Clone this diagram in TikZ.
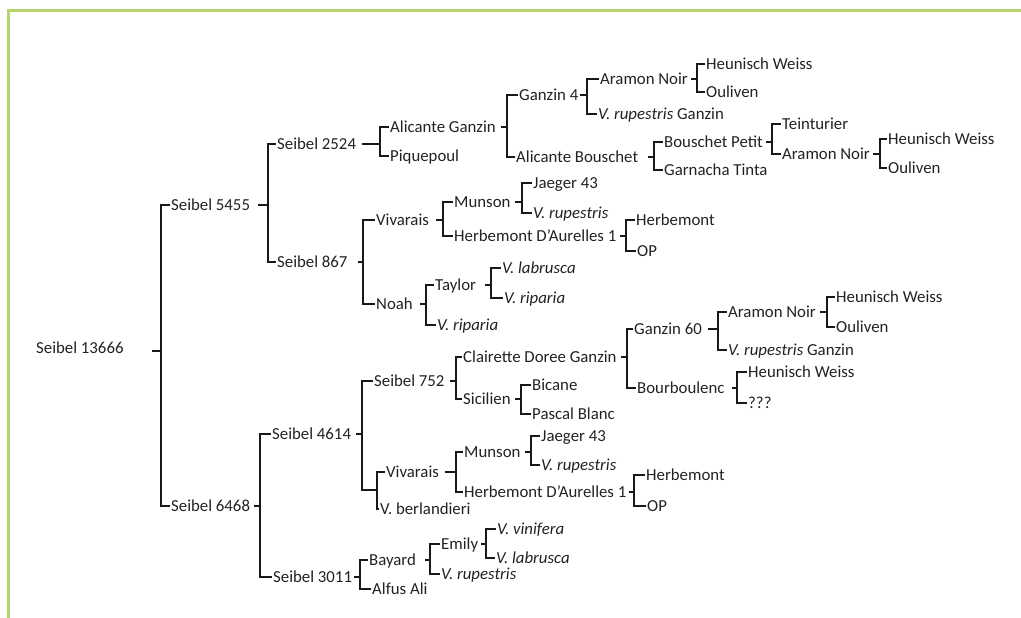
\documentclass[tikz,border=0pt]{standalone}
\usepackage{fontspec}
\setmainfont{Carlito}
\definecolor{framegreen}{HTML}{B5D46C}
\definecolor{ink}{HTML}{222222}
\newcommand\brk[5]{%
  \path (#2,0) coordinate (#1-s) (#3,0) coordinate (#1-j);
  \draw[link] (#1.east -| #1-s) -- (#1.east -| #1-j);
  \draw[link] ([xshift=-1.5pt]#4.west) -| (#1-j |- #5.west) -- ([xshift=-1.5pt]#5.west);
}
\begin{document}
\begin{tikzpicture}[x=1pt,y=-1pt,
  lbl/.style={anchor=west, inner sep=0pt, text height=11.5pt, text depth=0pt, text=ink, font=\fontsize{16.8}{18}\selectfont},
  link/.style={draw=black!90, line width=2pt},
  frm/.style={draw=framegreen, line width=2.8pt}]
\useasboundingbox (0,0) rectangle (1021,618);
\draw[frm] (1021,10.5) -- (8.5,10.5) -- (8.5,618);

% root and first level
\node[lbl] (r) at (36,348) {Seibel 13666};
\node[lbl] (a) at (171,205) {Seibel 5455};
\node[lbl] (b) at (171,506) {Seibel 6468};

% upper subtree
\node[lbl] (a1) at (277,144) {Seibel 2524};
\node[lbl] (a2) at (277,262) {Seibel 867};
\node[lbl] (a11) at (390,127) {Alicante Ganzin};
\node[lbl] (a12) at (390,156) {Piquepoul};
\node[lbl] (a111) at (519,95) {Ganzin 4};
\node[lbl] (a112) at (516,157) {Alicante Bouschet};
\node[lbl] (a1111) at (600,79) {Aramon Noir};
\node[lbl] (a1112) at (598,114) {\textit{V. rupestris} Ganzin};
\node[lbl] (a11111) at (706,64) {Heunisch Weiss};
\node[lbl] (a11112) at (706,92) {Ouliven};
\node[lbl] (a1121) at (664,142) {Bouschet Petit};
\node[lbl] (a1122) at (664,170) {Garnacha Tinta};
\node[lbl] (a11211) at (782,124) {Teinturier};
\node[lbl] (a11212) at (782,154) {Aramon Noir};
\node[lbl] (a112121) at (888,139) {Heunisch Weiss};
\node[lbl] (a112122) at (888,168) {Ouliven};
\node[lbl] (a21) at (376,220) {Vivarais};
\node[lbl] (a22) at (376,304) {Noah};
\node[lbl] (a211) at (454,202) {Munson};
\node[lbl] (a212) at (454,236) {Herbemont D'Aurelles 1};
\node[lbl] (a2111) at (533,183) {Jaeger 43};
\node[lbl] (a2112) at (533,213) {\textit{V. rupestris}};
\node[lbl] (a2121) at (636,220) {Herbemont};
\node[lbl] (a2122) at (637,251) {OP};
\node[lbl] (a221) at (435,285) {Taylor};
\node[lbl] (a222) at (437,325) {\textit{V. riparia}};
\node[lbl] (a2211) at (502,268) {\textit{V. labrusca}};
\node[lbl] (a2212) at (504,298) {\textit{V. riparia}};

% lower subtree
\node[lbl] (b1) at (272,434) {Seibel 4614};
\node[lbl] (b2) at (273,577) {Seibel 3011};
\node[lbl] (b11) at (374,381) {Seibel 752};
\coordinate (b12) at (377,490);
\node[lbl] (b121) at (386,472) {Vivarais};
\node[lbl] (b122) at (380,509) {V. berlandieri};
\node[lbl] (b111) at (463,357) {Clairette Doree Ganzin};
\node[lbl] (b112) at (463,399) {Sicilien};
\node[lbl] (b1111) at (634,329) {Ganzin 60};
\node[lbl] (b1112) at (637,388) {Bourboulenc};
\node[lbl] (b11111) at (728,312) {Aramon Noir};
\node[lbl] (b11112) at (728,350) {\textit{V. rupestris} Ganzin};
\node[lbl] (b111111) at (836,297) {Heunisch Weiss};
\node[lbl] (b111112) at (836,327) {Ouliven};
\node[lbl] (b11121) at (748,372) {Heunisch Weiss};
\node[lbl] (b11122) at (748,403) {???};
\node[lbl] (b1121) at (532,385) {Bicane};
\node[lbl] (b1122) at (532,414) {Pascal Blanc};
\node[lbl] (b1211) at (464,452) {Munson};
\node[lbl] (b1212) at (464,492) {Herbemont D'Aurelles 1};
\node[lbl] (b12111) at (541,436) {Jaeger 43};
\node[lbl] (b12112) at (541,465) {\textit{V. rupestris}};
\node[lbl] (b12121) at (646,475) {Herbemont};
\node[lbl] (b12122) at (647,506) {OP};
\node[lbl] (b21) at (369,560) {Bayard};
\node[lbl] (b22) at (372,589) {Alfus Ali};
\node[lbl] (b211) at (441,544) {Emily};
\node[lbl] (b212) at (441,574) {\textit{V. rupestris}};
\node[lbl] (b2111) at (497,529) {\textit{V. vinifera}};
\node[lbl] (b2112) at (496,558) {\textit{V. labrusca}};

% root connector
\path (152,0) coordinate (r-s) (161,0) coordinate (r-j);
\draw[link] ([yshift=-3pt]r.east -| r-s) -- ([yshift=-3pt]r.east -| r-j);
\draw[link] ([xshift=-1.5pt]a.west) -| (r-j |- b.west) -- ([xshift=-1.5pt]b.west);

% upper brackets
\brk{a}{258}{268}{a1}{a2}
\brk{a1}{362}{380}{a11}{a12}
\brk{a11}{501}{507}{a111}{a112}
\brk{a111}{580}{587}{a1111}{a1112}
\brk{a1111}{691}{697}{a11111}{a11112}
\brk{a112}{648}{654}{a1121}{a1122}
\brk{a1121}{766}{772}{a11211}{a11212}
\brk{a11212}{873}{880}{a112121}{a112122}
\brk{a2}{358}{363}{a21}{a22}
\brk{a21}{436}{443}{a211}{a212}
\brk{a211}{515}{522}{a2111}{a2112}
\brk{a212}{620}{626}{a2121}{a2122}
\brk{a22}{420}{426}{a221}{a222}
\brk{a221}{485}{491}{a2211}{a2212}

% lower brackets
\brk{b}{254}{260}{b1}{b2}
\path (356,0) coordinate (b1-s) (362,0) coordinate (b1-j);
\draw[link] (b1.east -| b1-s) -- (b1.east -| b1-j);
\draw[link] ([xshift=-1.5pt]b11.west) -| (b1-j |- b12) -- (b12);
\draw[link] ([xshift=-1.5pt]b121.west) -| (b12 |- b122.west) -- ([xshift=-1.5pt]b122.west);
\brk{b11}{450}{456}{b111}{b112}
\brk{b111}{621}{627}{b1111}{b1112}
\brk{b1111}{708}{718}{b11111}{b11112}
\brk{b11111}{820}{827}{b111111}{b111112}
\brk{b1112}{732}{737}{b11121}{b11122}
\brk{b112}{515}{521}{b1121}{b1122}
\brk{b121}{445}{456}{b1211}{b1212}
\brk{b1211}{525}{531}{b12111}{b12112}
\brk{b1212}{629}{634}{b12121}{b12122}
\brk{b2}{354}{360}{b21}{b22}
\brk{b21}{425}{430}{b211}{b212}
\brk{b211}{481}{486}{b2111}{b2112}
\end{tikzpicture}
\end{document}
